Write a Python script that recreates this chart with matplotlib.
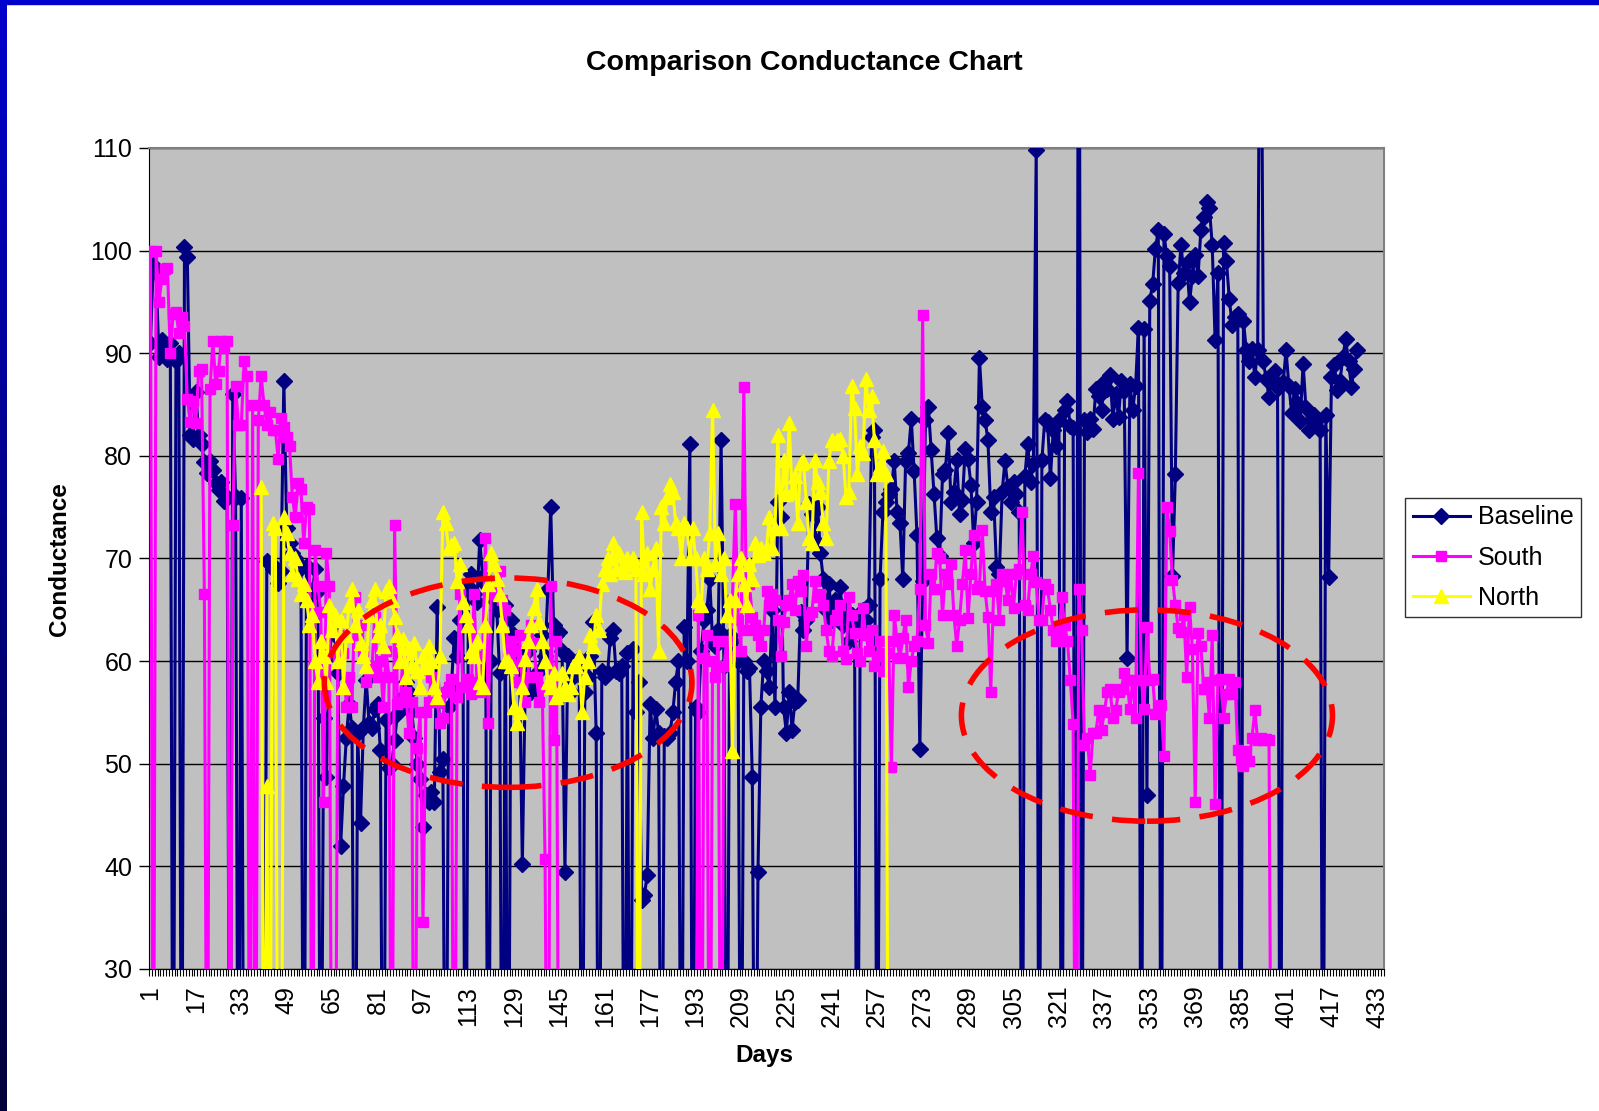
import numpy as np
import matplotlib
matplotlib.use("Agg")
import matplotlib.pyplot as plt
from matplotlib.patches import Ellipse, Rectangle

plt.rcParams['font.family'] = ['Liberation Sans', 'DejaVu Sans']

nan = np.nan

# Baseline conductance, day 1 onwards (0 = dropped reading)
baseline = [
    91.0, 98.6, 97.8, 89.6, 91.3, 90.5, 89.4, 91.0, 0, 89.2,        # 1-10
    90.0, 0, 100.4, 99.4, 82.0, 81.6, 86.2, 82.0, 81.2, 79.4,       # 11-20
    78.3, 79.5, 78.6, 77.4, 76.7, 77.5, 75.6, 76.0, 0, 86.0,        # 21-30
    76.0, 0, 75.9, 0, 0, 0, 0, 0, 0, 0,                             # 31-40
    0, 69.8, 69.5, 69.0, 69.2, 67.6, 68.8, 87.3, 73.0, 71.5,        # 41-50
    70.5, 70.0, 68.8, 69.3, 0, 69.3, 67.0, 66.5, 69.0, 66.8,        # 51-60
    0, 54.5, 48.7, 60.5, 63.0, 62.5, 58.8, 42.0, 47.8, 52.5,        # 61-70
    55.8, 53.5, 0, 53.0, 44.2, 53.5, 58.2, 54.0, 53.5, 55.3,        # 71-80
    55.8, 51.3, 0, 54.3, 49.6, 50.0, 52.3, 54.8, 55.2, 56.5,        # 81-90
    58.0, 57.0, 55.2, 52.5, 50.0, 48.5, 43.8, 47.0, 46.3, 47.2,     # 91-100
    46.3, 65.3, 49.2, 50.5, 0, 55.5, 57.5, 62.3, 60.5, 64.0,        # 101-110
    66.8, 0, 67.3, 68.5, 66.5, 65.8, 71.8, 68.3, 67.5, 0,           # 111-120
    60.0, 66.0, 65.0, 58.8, 0, 65.5, 0, 64.0, 62.5, 61.0,           # 121-130
    59.0, 40.2, 57.5, 61.0, 57.0, 58.0, 57.3, 59.0, 62.5, 60.5,     # 131-140
    67.0, 75.0, 63.5, 62.5, 62.8, 61.0, 39.5, 60.5, 57.0, 58.5,     # 141-150
    59.0, 60.2, 0, 57.0, 58.5, 60.5, 63.8, 53.0, 0, 59.0,           # 151-160
    58.5, 58.8, 62.3, 63.0, 59.0, 58.8, 59.5, 0, 60.8, 0,           # 161-170
    61.2, 55.0, 58.0, 36.7, 37.2, 39.2, 55.8, 52.5, 55.3, 53.0,     # 171-180
    0, 52.7, 52.5, 53.0, 55.0, 58.0, 60.0, 0, 63.3, 60.0,           # 181-190
    81.2, 0, 55.5, 55.0, 61.0, 64.0, 65.0, 68.0, 62.0, 61.5,        # 191-200
    63.0, 81.5, 59.5, 0, 62.5, 62.0, 61.0, 60.0, 0, 60.0,           # 201-210
    59.0, 59.3, 48.7, 0, 39.5, 55.5, 60.0, 59.0, 57.5, 65.0,        # 211-220
    55.5, 75.5, 74.0, 55.5, 53.0, 57.0, 53.3, 56.0, 56.2, 64.8,     # 221-230
    63.0, 64.0, 75.3, 74.3, 71.8, 75.0, 70.5, 68.0, 65.0, 67.5,     # 231-240
    64.0, 66.0, 64.5, 67.2, 63.5, 65.0, 62.0, 64.5, 63.5, 0,        # 241-250
    63.5, 65.0, 64.0, 65.5, 81.8, 82.5, 0, 68.0, 74.5, 75.5,        # 251-260
    76.3, 76.8, 79.5, 74.5, 73.5, 68.0, 79.5, 80.3, 83.6, 78.5,     # 261-270
    72.3, 51.4, 67.8, 83.5, 84.8, 80.6, 76.3, 72.0, 70.2, 78.2,     # 271-280
    78.6, 82.2, 75.5, 76.5, 79.6, 74.3, 75.7, 80.7, 79.7, 77.2,     # 281-290
    71.5, 75.5, 89.5, 84.8, 83.5, 81.5, 74.5, 76.0, 69.2, 68.5,     # 291-300
    76.5, 79.5, 77.0, 75.5, 77.5, 76.3, 74.5, 0, 78.0, 81.2,        # 301-310
    77.5, 79.2, 109.8, 0, 79.6, 83.5, 83.3, 77.8, 82.5, 81.0,       # 311-320
    83.5, 0, 84.5, 85.3, 82.9, 82.7, 0, 160.0, 0, 83.5,             # 321-330
    82.3, 83.6, 82.6, 86.5, 85.8, 84.5, 87.2, 86.5, 87.9, 83.6,     # 331-340
    86.0, 83.8, 87.3, 86.3, 60.3, 87.0, 84.5, 86.8, 92.5, 0,        # 341-350
    92.4, 47.0, 95.1, 96.7, 100.2, 102.0, 0, 101.6, 99.5, 98.5,     # 351-360
    68.3, 78.2, 96.8, 100.5, 97.8, 98.8, 95.0, 97.5, 99.6, 97.5,    # 361-370
    102.0, 103.3, 104.7, 104.2, 100.5, 91.3, 97.8, 0, 100.7, 99.0,  # 371-380
    95.3, 92.8, 93.5, 93.8, 0, 93.1, 90.3, 89.2, 90.4, 87.7,        # 381-390
    90.3, 140.0, 89.2, 87.5, 85.7, 87.6, 88.3, 86.6, 0, 87.2,       # 391-400
    90.3, 86.8, 84.2, 86.5, 85.2, 83.4, 89.0, 84.7, 82.5, 83.5,     # 401-410
    84.0, 83.5, 82.5, 0, 84.0, 68.2, 87.7, 88.9, 86.4, 87.3,        # 411-420
    89.6, 91.4, 89.2, 86.7, 88.5, 90.3,                             # 421-426
]

# South conductance
south = [
    100.0, 0, 100.0, 95.0, 97.2, 98.2, 98.3, 90.0, 93.8, 94.0,      # 1-10
    92.0, 93.5, 92.7, 85.5, 83.3, 85.3, 83.2, 88.3, 88.5, 66.5,     # 11-20
    0, 86.5, 91.2, 87.0, 88.3, 91.2, 90.5, 91.2, 0, 73.3,           # 21-30
    86.8, 83.0, 83.0, 89.2, 87.8, 0, 85.0, 0, 83.5, 87.8,           # 31-40
    85.0, 83.0, 84.3, 82.5, 82.5, 79.7, 83.7, 82.8, 81.8, 81.0,     # 41-50
    76.0, 74.0, 77.4, 76.8, 71.5, 75.0, 74.8, 0, 70.8, 67.3,        # 51-60
    64.8, 46.3, 70.5, 67.3, 0, 0, 60.5, 62.5, 60.8, 55.5,           # 61-70
    58.5, 55.5, 66.2, 62.5, 63.5, 61.0, 58.0, 59.5, 59.0, 64.3,     # 71-80
    58.5, 60.0, 55.5, 61.0, 58.5, 0, 73.3, 55.8, 56.0, 60.8,        # 81-90
    57.0, 53.0, 56.0, 0, 51.5, 55.0, 34.6, 55.0, 56.0, 58.5,        # 91-100
    57.5, 56.0, 54.0, 54.5, 57.0, 57.5, 58.3, 0, 56.5, 66.5,        # 101-110
    57.5, 58.0, 58.3, 56.8, 66.5, 58.0, 57.0, 60.5, 72.0, 54.0,     # 111-120
    66.5, 67.0, 66.8, 68.8, 66.0, 65.0, 60.5, 62.0, 61.0, 58.0,     # 121-130
    62.5, 57.5, 56.0, 58.5, 63.5, 61.8, 58.5, 56.0, 57.5, 40.7,     # 131-140
    0, 67.3, 52.3, 62.0, 0, 0, 0, 0, 0, 0,                          # 141-150
    0, 0, 0, 0, 0, 0, 0, 0, 0, 0,                                   # 151-160
    0, 0, 0, 0, 0, 0, 0, 0, 0, 0,                                   # 161-170
    0, 0, 0, 0, 0, 0, 0, 0, 0, 0,                                   # 171-180
    0, 0, 0, 0, 0, 0, 0, 0, 0, 0,                                   # 181-190
    0, 0, 0, 64.5, 0, 60.3, 62.5, 0, 60.0, 58.5,                    # 191-200
    62.0, 0, 59.5, 62.0, 60.5, 66.0, 75.3, 64.0, 61.0, 86.7,        # 201-210
    63.0, 67.5, 64.3, 63.5, 62.5, 61.5, 63.0, 66.8, 65.5, 66.5,     # 211-220
    66.0, 64.0, 60.5, 63.8, 65.5, 66.0, 67.5, 65.0, 67.8, 66.8,     # 221-230
    68.4, 61.5, 64.5, 64.8, 67.8, 66.2, 66.5, 65.5, 63.0, 61.0,     # 231-240
    60.5, 64.0, 64.5, 65.5, 61.0, 60.2, 66.2, 64.5, 62.7, 60.8,     # 241-250
    60.0, 65.2, 62.5, 61.0, 63.0, 59.5, 60.5, 62.0, 59.0, 60.8,     # 251-260
    62.0, 49.7, 64.5, 62.0, 60.3, 62.3, 64.0, 57.5, 60.0, 61.5,     # 261-270
    62.0, 67.0, 93.7, 63.5, 61.8, 68.5, 67.0, 70.5, 70.0, 64.5,     # 271-280
    68.5, 67.5, 69.5, 64.5, 61.5, 64.0, 67.5, 70.8, 64.2, 68.5,     # 281-290
    72.3, 67.0, 67.3, 72.8, 66.8, 64.3, 57.0, 66.8, 67.5, 64.0,     # 291-300
    68.5, 67.8, 66.0, 68.5, 65.2, 68.5, 69.0, 74.5, 65.5, 65.0,     # 301-310
    68.5, 70.2, 67.7, 64.0, 64.0, 67.5, 67.0, 65.0, 63.0, 62.0,     # 311-320
    62.5, 66.2, 63.5, 62.0, 58.2, 53.9, 0, 67.0, 63.0, 51.8,        # 321-330
    52.5, 48.9, 53.0, 53.0, 55.2, 53.3, 55.0, 57.0, 57.3, 54.5,     # 331-340
    55.2, 57.0, 57.3, 58.8, 58.2, 55.3, 58.2, 54.5, 78.3, 58.2,     # 341-350
    55.3, 63.3, 58.2, 58.3, 54.8, 55.5, 55.7, 50.8, 75.0, 72.7,     # 351-360
    67.9, 65.5, 63.2, 62.8, 64.5, 58.5, 65.3, 61.2, 46.3, 62.7,     # 361-370
    61.5, 57.3, 58.0, 54.5, 62.5, 46.1, 58.2, 58.3, 54.5, 56.8,     # 371-380
    58.3, 56.8, 58.0, 51.3, 50.4, 49.8, 51.2, 50.3, 52.5, 55.2,     # 381-390
    52.3, 52.5, 52.3, 52.4, 52.3, 0,                                # 391-396
]

# North conductance (no readings before day 40)
north = [nan] * 39 + [
    77.0,                                                           # 40
    0, 47.8, 0, 73.5, 73.0, 0, 0, 74.0, 72.5, 70.5,                 # 41-50
    68.5, 70.0, 68.0, 66.5, 67.5, 66.0, 63.5, 64.5, 60.0, 58.0,     # 51-60
    62.0, 60.5, 58.0, 65.5, 63.0, 64.5, 60.0, 64.0, 57.5, 62.5,     # 61-70
    65.5, 67.0, 63.5, 65.0, 61.8, 60.5, 59.5, 64.5, 66.0, 67.0,     # 71-80
    62.5, 63.5, 61.5, 66.8, 67.3, 66.0, 64.3, 62.5, 60.0, 62.2,     # 81-90
    58.5, 61.3, 59.5, 61.8, 59.0, 57.5, 60.5, 59.4, 61.5, 60.0,     # 91-100
    57.5, 56.5, 60.5, 74.5, 73.5, 71.0, 71.3, 71.5, 67.8, 69.5,     # 101-110
    65.8, 64.5, 63.5, 61.0, 60.5, 62.0, 58.0, 57.5, 63.5, 67.5,     # 111-120
    70.5, 69.5, 68.0, 66.5, 63.5, 60.0, 60.0, 59.5, 55.5, 54.0,     # 121-130
    55.0, 57.5, 60.2, 62.0, 63.5, 65.2, 67.0, 63.8, 62.0, 60.0,     # 131-140
    58.0, 57.5, 58.8, 56.5, 57.0, 58.8, 57.5, 56.8, 57.5, 59.5,     # 141-150
    59.5, 60.5, 55.0, 58.5, 60.0, 62.5, 61.5, 64.5, 63.0, 67.5,     # 151-160
    69.0, 70.0, 68.5, 71.5, 69.0, 70.5, 69.0, 68.7, 70.0, 69.5,     # 161-170
    70.0, 69.0, 0, 74.5, 68.5, 70.5, 67.0, 69.0, 71.0, 61.0,        # 171-180
    75.0, 73.5, 76.0, 77.3, 76.5, 73.5, 73.0, 70.0, 73.5, 73.0,     # 181-190
    70.0, 73.0, 70.0, 66.0, 65.5, 70.0, 69.0, 72.5, 84.5, 69.5,     # 191-200
    72.5, 68.5, 70.0, 64.5, 66.0, 51.2, 66.0, 68.5, 70.0, 67.5,     # 201-210
    65.5, 69.5, 68.0, 71.5, 70.3, 71.0, 70.5, 71.0, 74.0, 71.0,     # 211-220
    73.0, 82.0, 73.0, 79.6, 76.3, 83.2, 76.5, 78.0, 73.5, 79.3,     # 221-230
    79.5, 75.5, 72.0, 71.5, 79.6, 77.5, 76.5, 73.5, 72.0, 79.5,     # 231-240
    81.5, 81.3, 81.5, 81.6, 80.0, 76.0, 76.5, 86.8, 84.7, 78.2,     # 241-250
    81.0, 80.3, 87.5, 84.5, 85.8, 81.5, 78.2, 79.0, 80.5, 78.2,     # 251-260
    0,                                                              # 261
]

x_labels = list(range(1, 434, 16))

# highlighted regions (centre day, centre value, width in days, height)
ellipses = [(127, 57.9, 129.5, 20.4), (352, 54.7, 130.7, 20.6)]

fig = plt.figure(figsize=(15.99, 11.11), dpi=100)
fig.patch.set_facecolor('white')

# slide frame: blue strip on top, gradient strip on the left
fig.patches.append(Rectangle((0, 1 - 4 / 1111), 1, 4 / 1111, transform=fig.transFigure,
                             color='#0000CC', zorder=0))
band = fig.add_axes([0, 0, 7 / 1599, 1])
grad = np.linspace(0, 1, 256).reshape(-1, 1)
band.imshow(grad, aspect='auto', cmap=matplotlib.colors.LinearSegmentedColormap.from_list(
    'b', ['#0000CC', '#00003A']), extent=(0, 1, 0, 1), origin='upper')
band.axis('off')

ax = fig.add_axes([149 / 1599, 1 - 969 / 1111, 1235 / 1599, 821 / 1111])
ax.set_facecolor('#C0C0C0')

b = np.array(baseline, dtype=float)
s = np.array(south, dtype=float)
n = np.array(north, dtype=float)

ax.plot(np.arange(1, len(b) + 1), b, color='#000080', lw=2.2, marker='D', ms=8,
        mfc='#000080', mec='#000080', label='Baseline', zorder=3)
ax.plot(np.arange(1, len(s) + 1), s, color='#FF00FF', lw=2.2, marker='s', ms=7.5,
        mfc='#FF00FF', mec='#FF00FF', label='South', zorder=4)
ax.plot(np.arange(1, len(n) + 1), n, color='#FFFF00', lw=2.2, marker='^', ms=10,
        mfc='#FFFF00', mec='#FFFF00', label='North', zorder=5)

for cx, cy, w, h in ellipses:
    ax.add_patch(Ellipse((cx, cy), w, h, fill=False, edgecolor='#FF0000', lw=4,
                         linestyle=(0, (6, 3.5)), zorder=6))

ax.set_xlim(0.5, 435.5)
ax.set_ylim(30, 110)
ax.set_yticks(range(30, 111, 10))
ax.yaxis.grid(True, color='black', lw=1)
ax.set_axisbelow(True)

ax.set_xticks(x_labels)
ax.set_xticklabels([str(v) for v in x_labels], rotation=90)
ax.set_xticks(np.arange(0.5, 436, 1), minor=True)
ax.tick_params(axis='x', which='major', length=0, pad=12, labelsize=18)
ax.tick_params(axis='x', which='minor', length=5, width=0.8, color='black')
ax.tick_params(axis='y', length=7, width=1, pad=5, labelsize=18)

for side in ['top', 'right']:
    ax.spines[side].set_color('#808080')
    ax.spines[side].set_linewidth(1.5)
ax.spines['left'].set_color('black')
ax.spines['bottom'].set_color('black')

fig.text(0.503, 0.943, 'Comparison Conductance Chart', ha='center', va='center',
         fontsize=20.5, fontweight='bold')
fig.text(0.037, 0.497, 'Conductance', rotation=90, ha='center', va='center',
         fontsize=17.5, fontweight='bold')
fig.text(0.478, 0.050, 'Days', ha='center', va='center', fontsize=17.5, fontweight='bold')

leg = fig.legend(loc='upper left', bbox_to_anchor=(1405 / 1599, 1 - 498 / 1111),
                 fontsize=18, frameon=True, fancybox=False, handlelength=2.3,
                 borderpad=0.3, labelspacing=0.65, handletextpad=0.3, borderaxespad=0)
leg.get_frame().set_edgecolor('black')
leg.get_frame().set_linewidth(1)

fig.savefig('out.png', dpi=100)
